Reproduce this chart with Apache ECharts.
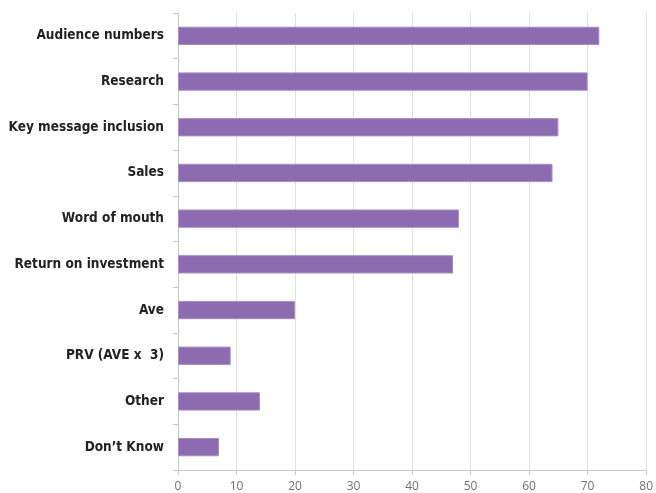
<!DOCTYPE html>
<html>
<head>
<meta charset="utf-8">
<script src="https://cdn.jsdelivr.net/npm/echarts@6/dist/echarts.min.js"></script>
<style>
  html, body { margin: 0; padding: 0; background: #fff; }
  #chart { width: 656px; height: 493px; }
</style>
</head>
<body>
<div id="chart"></div>
<script>
// Categories listed bottom-to-top (category axis on y starts at the bottom)
const categories = [
  "Don\u2019t Know",
  "Other",
  "PRV (AVE x  3)",
  "Ave",
  "Return on investment",
  "Word of mouth",
  "Sales",
  "Key message inclusion",
  "Research",
  "Audience numbers"
];
const values = [7, 14, 9, 20, 47, 48, 64, 65, 70, 72];
const xTicks = { min: 0, max: 80, interval: 10 };

const chart = echarts.init(document.getElementById('chart'));
chart.setOption({
  animation: false,
  grid: { left: 178, right: 8, top: 13, bottom: 19, containLabel: false },
  xAxis: {
    type: 'value',
    min: xTicks.min,
    max: xTicks.max,
    interval: xTicks.interval,
    axisLine: { show: true, lineStyle: { color: '#c8c8c8', width: 1 } },
    axisTick: { show: true, length: 5, lineStyle: { color: '#c8c8c8' } },
    axisLabel: { color: '#707070', fontFamily: 'Open Sans', fontSize: 12, margin: 11 },
    splitLine: { show: true, lineStyle: { color: '#dedede', width: 1 } }
  },
  yAxis: {
    type: 'category',
    data: categories,
    axisLine: { show: true, lineStyle: { color: '#c8c8c8', width: 1 } },
    axisTick: { show: true, length: 5, lineStyle: { color: '#c8c8c8' } },
    axisLabel: {
      color: '#222',
      fontFamily: 'DejaVu Sans Condensed',
      fontWeight: 'bold',
      fontSize: 13.5,
      margin: 14
    }
  },
  series: [{
    type: 'bar',
    data: values,
    barWidth: '40%',
    itemStyle: { color: '#8d6bb0', borderColor: '#a58cc4', borderWidth: 1 }
  }]
});
</script>
</body>
</html>
